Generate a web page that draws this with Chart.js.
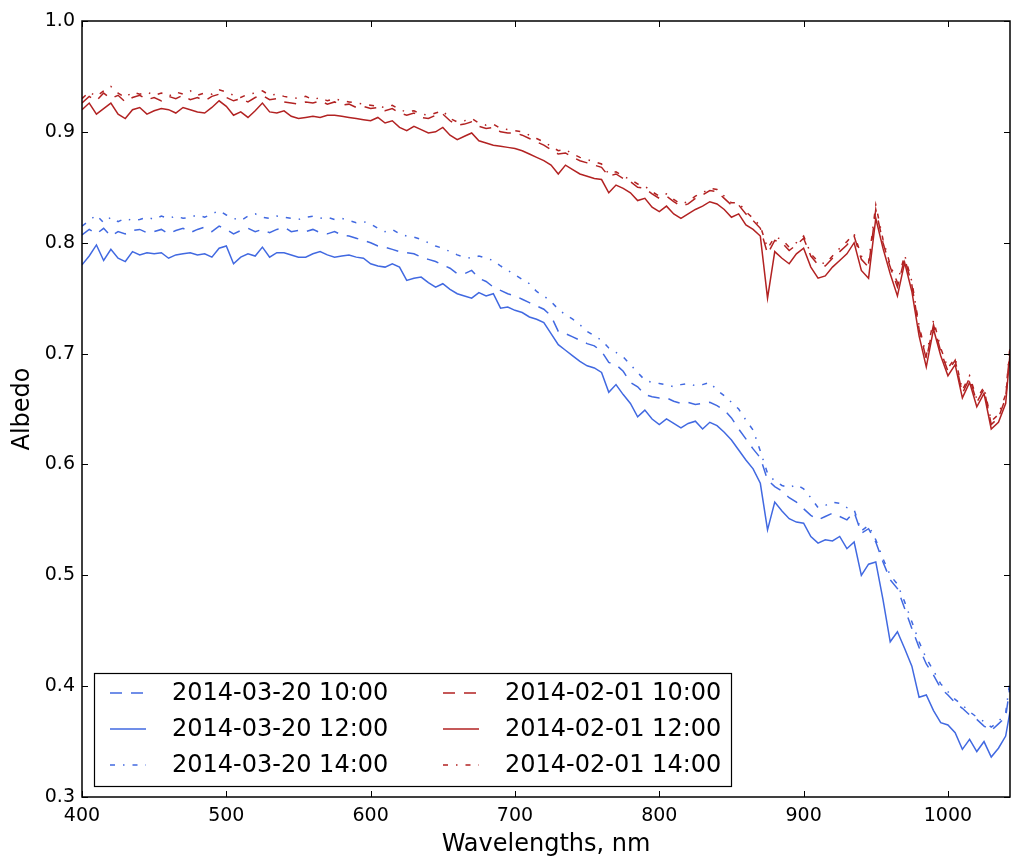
<!DOCTYPE html>
<html>
<head>
<meta charset="utf-8">
<script src="https://cdn.jsdelivr.net/npm/chart.js@4.4.1/dist/chart.umd.min.js"></script>
<style>
  html, body { margin: 0; padding: 0; background: #fff; }
  #albedo-chart { display: block; }
</style>
</head>
<body>
<canvas id="albedo-chart" width="1011" height="860"></canvas>
<script>
// Sampled wavelengths (nm)
const wavelengths = [
    400, 405, 410, 415, 420, 425, 430, 435, 440, 445,
    450, 455, 460, 465, 470, 475, 480, 485, 490, 495,
    500, 505, 510, 515, 520, 525, 530, 535, 540, 545,
    550, 555, 560, 565, 570, 575, 580, 585, 590, 595,
    600, 605, 610, 615, 620, 625, 630, 635, 640, 645,
    650, 655, 660, 665, 670, 675, 680, 685, 690, 695,
    700, 705, 710, 715, 720, 725, 730, 735, 740, 745,
    750, 755, 760, 765, 770, 775, 780, 785, 790, 795,
    800, 805, 810, 815, 820, 825, 830, 835, 840, 845,
    850, 855, 860, 865, 870, 875, 880, 885, 890, 895,
    900, 905, 910, 915, 920, 925, 930, 935, 940, 945,
    950, 955, 960, 965, 970, 975, 980, 985, 990, 995,
    1000, 1005, 1010, 1015, 1020, 1025, 1030, 1035, 1040, 1043
];

// 2014-03-20 10:00
const albedoMar10 = [
    0.807, 0.812, 0.808, 0.813, 0.806, 0.810, 0.808, 0.811, 0.812, 0.809,
    0.810, 0.812, 0.808, 0.811, 0.813, 0.809, 0.812, 0.814, 0.810, 0.815,
    0.812, 0.808, 0.811, 0.813, 0.810, 0.812, 0.809, 0.812, 0.814, 0.810,
    0.811, 0.810, 0.812, 0.809, 0.808, 0.810, 0.807, 0.806, 0.804, 0.802,
    0.800, 0.797, 0.796, 0.794, 0.792, 0.791, 0.790, 0.787, 0.785, 0.783,
    0.780, 0.777, 0.772, 0.772, 0.775, 0.768, 0.765, 0.760, 0.757, 0.754,
    0.752, 0.749, 0.746, 0.743, 0.740, 0.734, 0.720, 0.718, 0.715, 0.712,
    0.709, 0.707, 0.702, 0.692, 0.690, 0.684, 0.674, 0.670, 0.663, 0.661,
    0.660, 0.660, 0.657, 0.655, 0.656, 0.654, 0.655, 0.656, 0.653, 0.649,
    0.642, 0.632, 0.623, 0.614, 0.606, 0.586, 0.580, 0.576, 0.570, 0.566,
    0.560, 0.554, 0.550, 0.553, 0.556, 0.553, 0.550, 0.557, 0.538, 0.542,
    0.530, 0.512, 0.496, 0.488, 0.470, 0.452, 0.435, 0.420, 0.410, 0.398,
    0.392, 0.385, 0.380, 0.374, 0.370, 0.364, 0.360, 0.366, 0.372, 0.400
];

// 2014-03-20 12:00
const albedoMar12 = [
    0.780, 0.788, 0.798, 0.784, 0.794, 0.786, 0.783, 0.792, 0.789, 0.791,
    0.790, 0.791, 0.786, 0.789, 0.790, 0.791, 0.789, 0.790, 0.787, 0.795,
    0.797, 0.781, 0.787, 0.790, 0.788, 0.796, 0.787, 0.791, 0.791, 0.789,
    0.787, 0.787, 0.790, 0.792, 0.789, 0.787, 0.788, 0.789, 0.787, 0.786,
    0.781, 0.779, 0.778, 0.781, 0.778, 0.766, 0.768, 0.769, 0.764, 0.760,
    0.763, 0.758, 0.754, 0.752, 0.750, 0.755, 0.752, 0.754, 0.741, 0.742,
    0.739, 0.737, 0.733, 0.731, 0.728, 0.718, 0.708, 0.703, 0.698, 0.693,
    0.689, 0.687, 0.683, 0.665, 0.672, 0.663, 0.655, 0.643, 0.649, 0.641,
    0.636, 0.641, 0.637, 0.633, 0.637, 0.639, 0.632, 0.638, 0.635, 0.629,
    0.622, 0.613, 0.604, 0.596, 0.583, 0.541, 0.566, 0.558, 0.551, 0.548,
    0.547, 0.535, 0.529, 0.532, 0.531, 0.535, 0.524, 0.530, 0.500, 0.510,
    0.512, 0.478, 0.440, 0.449, 0.434, 0.418, 0.390, 0.392, 0.378, 0.367,
    0.365, 0.358, 0.343, 0.352, 0.341, 0.350, 0.336, 0.344, 0.355, 0.377
];

// 2014-03-20 14:00
const albedoMar14 = [
    0.815, 0.820, 0.825, 0.818, 0.823, 0.819, 0.822, 0.820, 0.821, 0.823,
    0.821, 0.824, 0.822, 0.824, 0.822, 0.823, 0.825, 0.823, 0.826, 0.829,
    0.825, 0.822, 0.820, 0.824, 0.826, 0.823, 0.822, 0.824, 0.823, 0.822,
    0.821, 0.823, 0.824, 0.822, 0.823, 0.821, 0.822, 0.820, 0.818, 0.819,
    0.817, 0.813, 0.810, 0.812, 0.808, 0.806, 0.805, 0.803, 0.800, 0.797,
    0.795, 0.792, 0.789, 0.787, 0.786, 0.788, 0.786, 0.784, 0.779, 0.775,
    0.771, 0.767, 0.763, 0.756, 0.752, 0.747, 0.740, 0.735, 0.731, 0.726,
    0.720, 0.716, 0.712, 0.705, 0.701, 0.697, 0.690, 0.683, 0.676, 0.674,
    0.673, 0.672, 0.670, 0.672, 0.673, 0.671, 0.672, 0.674, 0.667, 0.662,
    0.656, 0.650, 0.640, 0.631, 0.612, 0.592, 0.585, 0.581, 0.579, 0.582,
    0.578, 0.570, 0.561, 0.563, 0.566, 0.565, 0.561, 0.559, 0.540, 0.545,
    0.532, 0.515, 0.500, 0.492, 0.476, 0.458, 0.440, 0.425, 0.414, 0.402,
    0.395, 0.388, 0.383, 0.377, 0.372, 0.368, 0.363, 0.368, 0.376, 0.405
];

// 2014-02-01 10:00
const albedoFeb10 = [
    0.926, 0.932, 0.928, 0.935, 0.930, 0.933, 0.927, 0.931, 0.933, 0.929,
    0.931, 0.928, 0.932, 0.930, 0.933, 0.929, 0.931, 0.928, 0.932, 0.934,
    0.931, 0.928, 0.930, 0.927, 0.931, 0.933, 0.929, 0.930, 0.927, 0.926,
    0.925, 0.927, 0.926, 0.928, 0.925, 0.927, 0.924, 0.925, 0.922, 0.923,
    0.921, 0.922, 0.919, 0.921, 0.917, 0.915, 0.917, 0.913, 0.912, 0.915,
    0.916, 0.910, 0.906, 0.907, 0.909, 0.905, 0.903, 0.904, 0.900, 0.899,
    0.899, 0.897, 0.894, 0.891, 0.888, 0.884, 0.880, 0.881, 0.877, 0.874,
    0.872, 0.870, 0.868, 0.860, 0.862, 0.858, 0.855, 0.850, 0.849, 0.844,
    0.840, 0.842, 0.837, 0.833, 0.835, 0.840, 0.843, 0.847, 0.846, 0.840,
    0.834, 0.834, 0.826, 0.820, 0.813, 0.790, 0.802, 0.800, 0.793, 0.798,
    0.804, 0.788, 0.780, 0.779, 0.786, 0.792, 0.798, 0.806, 0.785, 0.778,
    0.830, 0.800, 0.778, 0.760, 0.786, 0.762, 0.722, 0.695, 0.726, 0.702,
    0.684, 0.694, 0.664, 0.678, 0.656, 0.668, 0.636, 0.642, 0.660, 0.704
];

// 2014-02-01 12:00
const albedoFeb12 = [
    0.920, 0.926, 0.916, 0.921, 0.926, 0.916, 0.912, 0.920, 0.922, 0.916,
    0.919, 0.921, 0.920, 0.917, 0.922, 0.920, 0.918, 0.917, 0.922, 0.928,
    0.923, 0.915, 0.918, 0.913, 0.919, 0.926, 0.918, 0.917, 0.919, 0.914,
    0.912, 0.913, 0.914, 0.913, 0.915, 0.915, 0.914, 0.913, 0.912, 0.911,
    0.910, 0.913, 0.908, 0.910, 0.904, 0.901, 0.905, 0.902, 0.899, 0.900,
    0.904, 0.897, 0.893, 0.896, 0.899, 0.892, 0.890, 0.888, 0.887, 0.886,
    0.885, 0.883, 0.880, 0.877, 0.874, 0.870, 0.862, 0.870, 0.866, 0.862,
    0.860, 0.858, 0.857, 0.845, 0.852, 0.849, 0.845, 0.838, 0.840, 0.832,
    0.828, 0.833, 0.826, 0.822, 0.826, 0.830, 0.833, 0.837, 0.835, 0.830,
    0.823, 0.826, 0.816, 0.812, 0.806, 0.750, 0.792, 0.786, 0.781, 0.790,
    0.795, 0.778, 0.768, 0.770, 0.778, 0.784, 0.790, 0.800, 0.775, 0.768,
    0.822, 0.795, 0.772, 0.752, 0.782, 0.756, 0.716, 0.688, 0.722, 0.698,
    0.680, 0.690, 0.660, 0.674, 0.652, 0.664, 0.632, 0.638, 0.655, 0.700
];

// 2014-02-01 14:00
const albedoFeb14 = [
    0.930, 0.936, 0.932, 0.937, 0.941, 0.935, 0.931, 0.936, 0.934, 0.936,
    0.933, 0.935, 0.932, 0.936, 0.934, 0.937, 0.933, 0.935, 0.934, 0.938,
    0.936, 0.933, 0.931, 0.934, 0.935, 0.937, 0.933, 0.934, 0.932, 0.931,
    0.930, 0.932, 0.929, 0.931, 0.928, 0.930, 0.928, 0.927, 0.926, 0.925,
    0.924, 0.923, 0.922, 0.924, 0.920, 0.918, 0.919, 0.916, 0.915, 0.917,
    0.919, 0.912, 0.909, 0.910, 0.912, 0.908, 0.906, 0.907, 0.903, 0.902,
    0.901, 0.900, 0.897, 0.894, 0.891, 0.887, 0.883, 0.884, 0.880, 0.877,
    0.875, 0.873, 0.871, 0.862, 0.864, 0.860, 0.857, 0.853, 0.851, 0.846,
    0.842, 0.844, 0.839, 0.835, 0.837, 0.842, 0.845, 0.849, 0.848, 0.842,
    0.836, 0.836, 0.828, 0.822, 0.815, 0.795, 0.805, 0.803, 0.796, 0.800,
    0.806, 0.790, 0.783, 0.781, 0.788, 0.795, 0.801, 0.808, 0.788, 0.782,
    0.834, 0.803, 0.780, 0.764, 0.789, 0.765, 0.725, 0.698, 0.730, 0.705,
    0.687, 0.696, 0.667, 0.680, 0.659, 0.670, 0.639, 0.645, 0.663, 0.707
];

const seriesLabels = [
    '2014-03-20 10:00', '2014-03-20 12:00', '2014-03-20 14:00',
    '2014-02-01 10:00', '2014-02-01 12:00', '2014-02-01 14:00'
];

const BLUE = '#4169E1';
const RED = '#B22222';
const DASHED = [12, 9];
const DASHDOT = [5, 8, 1.5, 8];

function toPoints(values) {
    return wavelengths.map((w, i) => ({ x: w, y: values[i] }));
}

function makeSeries(label, values, color, dash) {
    return {
        label: label,
        data: toPoints(values),
        borderColor: color,
        backgroundColor: color,
        borderWidth: 1.5,
        borderDash: dash,
        pointRadius: 0,
        pointHoverRadius: 0,
        tension: 0,
        fill: false
    };
}

// Draws the box around the plot, inward ticks on all sides and a two-column legend
const framePlugin = {
    id: 'framePlugin',
    afterDatasetsDraw(chart) {
        const ctx = chart.ctx;
        const a = chart.chartArea;
        const xs = chart.scales.x;
        const ys = chart.scales.y;
        const tickLen = 6;

        ctx.save();
        ctx.strokeStyle = '#000';
        ctx.lineWidth = 1;
        ctx.setLineDash([]);
        ctx.beginPath();
        xs.ticks.forEach(t => {
            const px = Math.round(xs.getPixelForValue(t.value)) + 0.5;
            ctx.moveTo(px, a.bottom);
            ctx.lineTo(px, a.bottom - tickLen);
            ctx.moveTo(px, a.top);
            ctx.lineTo(px, a.top + tickLen);
        });
        ys.ticks.forEach(t => {
            const py = Math.round(ys.getPixelForValue(t.value)) + 0.5;
            ctx.moveTo(a.left, py);
            ctx.lineTo(a.left + tickLen, py);
            ctx.moveTo(a.right, py);
            ctx.lineTo(a.right - tickLen, py);
        });
        ctx.stroke();

        ctx.lineWidth = 1.5;
        ctx.strokeRect(a.left, a.top, a.right - a.left, a.bottom - a.top);

        // legend
        const boxLeft = a.left + 12;
        const boxTop = a.bottom - 124;
        const boxW = 637;
        const boxH = 113;
        ctx.fillStyle = '#fff';
        ctx.fillRect(boxLeft, boxTop, boxW, boxH);
        ctx.lineWidth = 1.2;
        ctx.strokeStyle = '#000';
        ctx.strokeRect(boxLeft + 0.5, boxTop + 0.5, boxW, boxH);

        ctx.font = '24px "DejaVu Sans"';
        ctx.textBaseline = 'middle';
        ctx.textAlign = 'left';
        chart.data.datasets.forEach((ds, i) => {
            const col = Math.floor(i / 3);
            const row = i % 3;
            const hx = boxLeft + 16 + col * 333;
            const hy = boxTop + 20 + row * 36;
            ctx.strokeStyle = ds.borderColor;
            ctx.lineWidth = ds.borderWidth;
            ctx.setLineDash(ds.borderDash || []);
            ctx.beginPath();
            ctx.moveTo(hx, hy);
            ctx.lineTo(hx + 36, hy);
            ctx.stroke();
            ctx.setLineDash([]);
            ctx.fillStyle = '#000';
            ctx.fillText(ds.label, hx + 62, hy + 1);
        });
        ctx.restore();
    }
};

Chart.defaults.font.family = '"DejaVu Sans", sans-serif';
Chart.defaults.color = '#000';

const ctx = document.getElementById('albedo-chart').getContext('2d');
const chart = new Chart(ctx, {
    type: 'line',
    data: {
        datasets: [
            makeSeries(seriesLabels[0], albedoMar10, BLUE, DASHED),
            makeSeries(seriesLabels[1], albedoMar12, BLUE, []),
            makeSeries(seriesLabels[2], albedoMar14, BLUE, DASHDOT),
            makeSeries(seriesLabels[3], albedoFeb10, RED, DASHED),
            makeSeries(seriesLabels[4], albedoFeb12, RED, []),
            makeSeries(seriesLabels[5], albedoFeb14, RED, DASHDOT)
        ]
    },
    options: {
        responsive: false,
        animation: false,
        devicePixelRatio: 1,
        layout: {
            padding: { top: 21, right: 1, left: 0, bottom: 0 }
        },
        plugins: {
            legend: { display: false },
            tooltip: { enabled: false }
        },
        scales: {
            x: {
                type: 'linear',
                min: 400,
                max: 1043,
                grid: { display: false, drawTicks: false },
                border: { display: false },
                ticks: {
                    stepSize: 100,
                    includeBounds: false,
                    padding: 8,
                    maxRotation: 0,
                    font: { size: 19 },
                    callback: function(value) {
                        return value;
                    }
                },
                title: {
                    display: true,
                    text: 'Wavelengths, nm',
                    font: { size: 24 },
                    padding: { top: 0, bottom: 1 }
                },
                afterFit: function(scale) {
                    scale.height = 63;
                }
            },
            y: {
                min: 0.3,
                max: 1.0,
                grid: { display: false, drawTicks: false },
                border: { display: false },
                ticks: {
                    stepSize: 0.1,
                    padding: 7,
                    font: { size: 19 },
                    callback: function(value) {
                        return value.toFixed(1);
                    }
                },
                title: {
                    display: true,
                    text: 'Albedo',
                    font: { size: 24 },
                    padding: { top: 8, bottom: 0 }
                },
                afterFit: function(scale) {
                    scale.width = 82;
                }
            }
        }
    },
    plugins: [framePlugin]
});
</script>
</body>
</html>
